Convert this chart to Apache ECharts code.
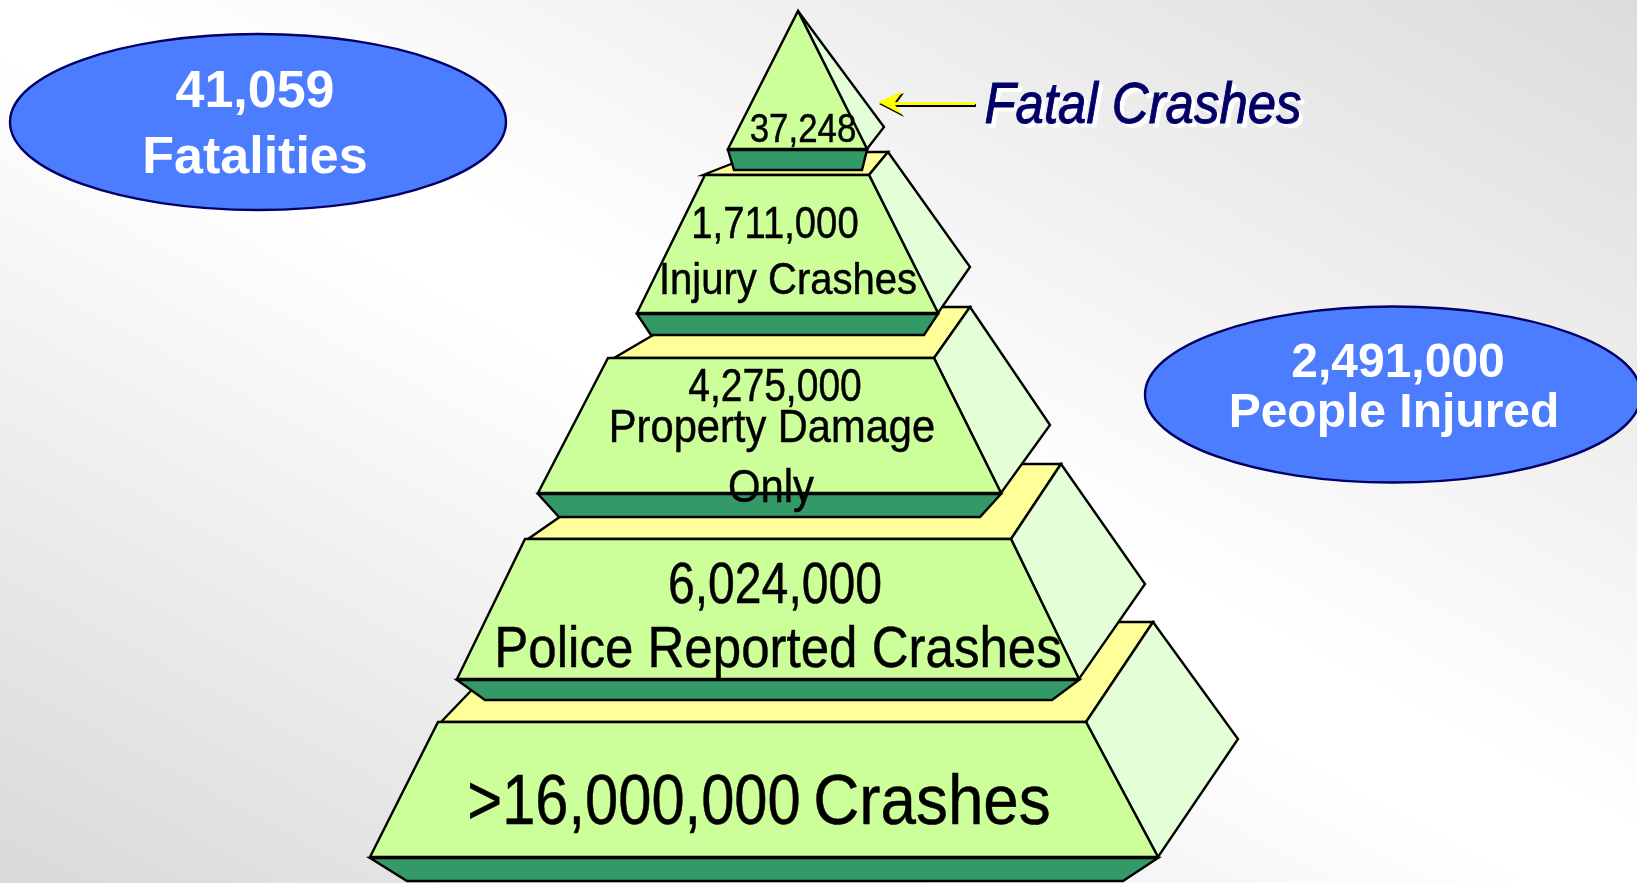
<!DOCTYPE html>
<html>
<head>
<meta charset="utf-8">
<title>Crash pyramid</title>
<script src="https://cdn.jsdelivr.net/npm/echarts@6/dist/echarts.min.js"></script>
<style>
  html, body { margin: 0; padding: 0; }
  #chart {
    width: 1637px;
    height: 883px;
    background: linear-gradient(to top right, #d9d9d9, #ffffff 47%, #ffffff 53%, #dcdcdc);
  }
</style>
</head>
<body>
<div id="chart"></div>
<script>
// values, top tier first
const tierValues = [37248, 1711000, 4275000, 6024000, 16000000];
const tierNames = ['', 'Injury Crashes', 'Property Damage', 'Police Reported Crashes', 'Crashes'];
const tierExtra = ['', '', 'Only', '', ''];
const fatalities = 41059;
const injured = 2491000;

const fmt = n => n.toLocaleString('en-US');

// diagram outlines, in pixels of the slide, bottom tier first so upper ones paint over
const yellowFaces = [
  [[441, 722], [537, 622], [1153, 622], [1086, 722]],
  [[528, 539], [636, 464], [1061, 464], [1011, 539]],
  [[614, 358], [701, 307], [970, 307], [934, 358]],
  [[703, 175], [762, 152], [888, 152], [869, 175]]
];
const sideFaces = [
  [[1153, 622], [1238, 739], [1158, 857], [1086, 722]],
  [[1061, 464], [1145, 584], [1079, 679], [1011, 539]],
  [[970, 307], [1050, 425], [1001, 493], [934, 358]],
  [[888, 152], [970, 267], [938, 313], [869, 175]],
  [[798, 11], [884, 127], [867, 149]]
];
const frontFaces = [
  [[438, 722], [1086, 722], [1158, 857], [370, 857]],
  [[525, 539], [1011, 539], [1079, 679], [457, 679]],
  [[608, 358], [934, 358], [1001, 493], [538, 493]],
  [[705, 175], [869, 175], [938, 313], [637, 313]],
  [[798, 11], [867, 149], [728, 149]]
];
const bandFaces = [
  [[370, 858], [1158, 858], [1123, 881], [407, 881]],
  [[457, 680], [1079, 680], [1052, 700], [485, 700]],
  [[538, 494], [1001, 494], [980, 517], [559, 517]],
  [[637, 314], [938, 314], [924, 335], [651, 335]],
  [[728, 150], [867, 150], [862, 170], [734, 170]]
];

const ellipses = [[258, 122, 248, 88], [1393, 394.5, 248, 88]];
const arrowShape = [[878, 102], [903, 91], [895, 102], [975, 102], [975, 105], [895, 105], [903, 115]];

const plain = '"Liberation Sans", Arial, sans-serif';

// text, centre x, centre y, size, horizontal squeeze (stands in for the narrow face)
const textLines = [
  [fmt(tierValues[0]), 803, 131, 41, 0.85],
  [fmt(tierValues[1]), 775, 226, 45, 0.85],
  [tierNames[1], 788, 282, 45, 0.89],
  [fmt(tierValues[2]), 775, 388, 47, 0.83],
  [tierNames[2], 772, 429, 47, 0.886],
  [tierExtra[2], 771, 489, 47, 0.89],
  [fmt(tierValues[3]), 775, 587, 58, 0.83],
  [tierNames[3], 778, 651, 58, 0.88],
  ['>' + fmt(tierValues[4]), 634, 804, 71, 0.84],
  [tierNames[4], 932, 804, 71, 0.898]
];
const badgeLines = [
  [fmt(fatalities), 255, 93, 52],
  ['Fatalities', 255, 159, 52],
  [fmt(injured), 1398, 364, 48],
  ['People Injured', 1394, 414, 48]
];

const faces = [];
// paint order: each tier yellow, side, front, band, then the next one up
for (let i = 0; i < frontFaces.length; i++) {
  if (yellowFaces[i]) faces.push([yellowFaces[i], '#ffff99']);
  faces.push([sideFaces[i], '#e4ffd8']);
  faces.push([frontFaces[i], '#ccff99']);
  faces.push([bandFaces[i], '#339966']);
}

const toPixels = (api, pts) => pts.map(p => api.coord(p));

const option = {
  animation: false,
  grid: { left: 0, right: 0, top: 0, bottom: 0 },
  xAxis: { type: 'value', min: 0, max: 1637, show: false },
  yAxis: { type: 'value', min: 0, max: 883, inverse: true, show: false },
  series: [
    {
      name: 'pyramid',
      type: 'custom',
      coordinateSystem: 'cartesian2d',
      clip: false,
      silent: true,
      data: faces.map((f, i) => [i]),
      renderItem: (params, api) => {
        const face = faces[params.dataIndex];
        return {
          type: 'polygon',
          shape: { points: toPixels(api, face[0]) },
          style: { fill: face[1], stroke: '#000', lineWidth: 2.4, lineJoin: 'miter' }
        };
      }
    },
    {
      name: 'badges',
      type: 'custom',
      coordinateSystem: 'cartesian2d',
      clip: false,
      silent: true,
      data: ellipses.map((e, i) => [i]),
      renderItem: (params, api) => {
        const e = ellipses[params.dataIndex];
        const c = api.coord([e[0], e[1]]);
        return {
          type: 'ellipse',
          shape: { cx: c[0], cy: c[1], rx: e[2], ry: e[3] },
          style: { fill: '#4d7dff', stroke: '#000066', lineWidth: 2.4 }
        };
      }
    },
    {
      name: 'arrow',
      type: 'custom',
      coordinateSystem: 'cartesian2d',
      clip: false,
      silent: true,
      data: [[0], [1]],
      renderItem: (params, api) => {
        const shadow = params.dataIndex === 0;
        return {
          type: 'polygon',
          shape: { points: toPixels(api, arrowShape.map(p => shadow ? [p[0] + 1, p[1] + 2] : p)) },
          style: { fill: shadow ? '#000' : '#ffff00' }
        };
      }
    },
    {
      name: 'tier text',
      type: 'custom',
      coordinateSystem: 'cartesian2d',
      clip: false,
      silent: true,
      z: 5,
      data: textLines.map((t, i) => [i]),
      renderItem: (params, api) => {
        const t = textLines[params.dataIndex];
        const c = api.coord([t[1], t[2]]);
        return {
          type: 'text',
          x: c[0],
          y: c[1],
          scaleX: t[4],
          style: {
            text: t[0], fill: '#000', stroke: '#000', lineWidth: 0.5,
            font: t[3] + 'px ' + plain, align: 'center', verticalAlign: 'middle'
          }
        };
      }
    },
    {
      name: 'badge text',
      type: 'custom',
      coordinateSystem: 'cartesian2d',
      clip: false,
      silent: true,
      z: 5,
      data: badgeLines.map((t, i) => [i]),
      renderItem: (params, api) => {
        const t = badgeLines[params.dataIndex];
        const c = api.coord([t[1], t[2]]);
        return {
          type: 'text',
          style: {
            text: t[0], x: c[0], y: c[1], fill: '#fff',
            font: 'bold ' + t[3] + 'px ' + plain, align: 'center', verticalAlign: 'middle'
          }
        };
      }
    },
    {
      name: 'callout',
      type: 'custom',
      coordinateSystem: 'cartesian2d',
      clip: false,
      silent: true,
      z: 5,
      // white copy first, it is the drop shadow
      data: [[0], [1]],
      renderItem: (params, api) => {
        const off = params.dataIndex === 0 ? 4 : 0;
        const c = api.coord([1143 + off, 107 + off]);
        const col = off ? '#fff' : '#000066';
        return {
          type: 'text',
          x: c[0],
          y: c[1],
          scaleX: 0.878,
          style: {
            text: 'Fatal Crashes', fill: col, stroke: col, lineWidth: 1,
            font: 'italic 58px ' + plain, align: 'center', verticalAlign: 'middle'
          }
        };
      }
    }
  ]
};

const chart = echarts.init(document.getElementById('chart'));
chart.setOption(option);
window.addEventListener('resize', () => chart.resize());
</script>
</body>
</html>
